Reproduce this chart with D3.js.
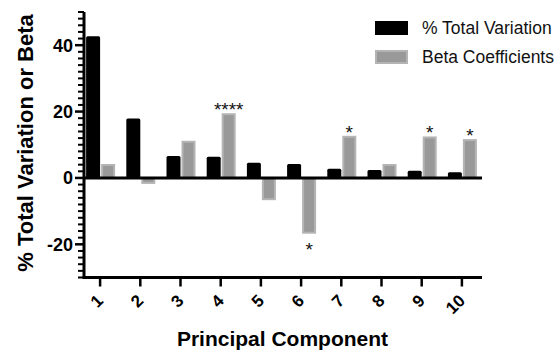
<!DOCTYPE html>
<html>
<head>
<meta charset="utf-8">
<script src="https://cdn.jsdelivr.net/npm/d3@7"></script>
<style>
  body { margin: 0; background: #fff; }
  text { font-family: "Liberation Sans", Arial, sans-serif; }
</style>
</head>
<body>
<div id="chart"></div>
<script>
const components = ['1', '2', '3', '4', '5', '6', '7', '8', '9', '10'];
const totalVariation = [42.7, 17.9, 6.6, 6.4, 4.6, 4.2, 2.8, 2.4, 2.2, 1.7];
const betaCoefficients = [3.9, -1.5, 10.9, 19.2, -6.4, -16.5, 12.4, 3.9, 12.2, 11.4];
const significance = ['', '', '', '****', '', '*', '*', '', '*', '*'];
const yMajorTicks = [-20, 0, 20, 40];
const seriesNames = ['% Total Variation', 'Beta Coefficients'];

const W = 556, H = 352;
const svg = d3.select('#chart').append('svg')
  .attr('width', W).attr('height', H);

// scales
const x = d3.scaleBand().domain(components).range([80, 482]);
const y = d3.scaleLinear().domain([-30, 50]).range([277.5, 12]);
const axisLeftX = 84;
const barW = 14;
const cx = d => x(d) + x.bandwidth() / 2;

// bars: total variation (black)
svg.append('g').selectAll('rect')
  .data(totalVariation)
  .join('rect')
  .attr('x', (d, i) => cx(components[i]) - barW)
  .attr('y', d => y(Math.max(0, d)))
  .attr('width', barW)
  .attr('height', d => Math.abs(y(d) - y(0)))
  .attr('rx', 1.5)
  .attr('fill', '#000');

// bars: beta coefficients (grey)
svg.append('g').selectAll('rect')
  .data(betaCoefficients)
  .join('rect')
  .attr('x', (d, i) => cx(components[i]) + 2)
  .attr('y', d => y(Math.max(0, d)))
  .attr('width', barW - 2)
  .attr('height', d => Math.abs(y(d) - y(0)))
  .attr('fill', '#999')
  .attr('stroke', '#b4b4b4')
  .attr('stroke-width', 2);

// significance stars
svg.append('g').selectAll('text')
  .data(significance)
  .join('text')
  .attr('x', (d, i) => cx(components[i]) + 8)
  .attr('y', (d, i) => betaCoefficients[i] >= 0 ? y(betaCoefficients[i]) + 2 : y(betaCoefficients[i]) + 23)
  .attr('text-anchor', 'middle')
  .attr('font-size', 19)
  .attr('fill', '#111')
  .text(d => d);

// y axis
const yAxis = svg.append('g').attr('transform', `translate(${axisLeftX},0)`);
yAxis.append('line')
  .attr('y1', y(50)).attr('y2', y(-30))
  .attr('stroke', '#000').attr('stroke-width', 3);
const minor = d3.range(-30, 51, 2).filter(v => !yMajorTicks.includes(v));
yAxis.selectAll('.minor').data(minor).join('line')
  .attr('class', 'minor')
  .attr('x1', -6).attr('x2', 0)
  .attr('y1', d => y(d)).attr('y2', d => y(d))
  .attr('stroke', '#000').attr('stroke-width', 2);
yAxis.selectAll('.major').data(yMajorTicks).join('line')
  .attr('class', 'major')
  .attr('x1', -9).attr('x2', 0)
  .attr('y1', d => y(d)).attr('y2', d => y(d))
  .attr('stroke', '#000').attr('stroke-width', 2.5);
yAxis.selectAll('.lbl').data(yMajorTicks).join('text')
  .attr('class', 'lbl')
  .attr('x', -11).attr('y', d => y(d))
  .attr('dy', '0.36em')
  .attr('text-anchor', 'end')
  .attr('font-size', 18).attr('font-weight', 'bold')
  .text(d => d);

// zero line
svg.append('line')
  .attr('x1', axisLeftX).attr('x2', 482)
  .attr('y1', y(0)).attr('y2', y(0))
  .attr('stroke', '#000').attr('stroke-width', 3);

// x axis at bottom
const xAxisY = y(-30);
svg.append('line')
  .attr('x1', axisLeftX - 1.5).attr('x2', 482)
  .attr('y1', xAxisY).attr('y2', xAxisY)
  .attr('stroke', '#000').attr('stroke-width', 3);
svg.append('g').selectAll('line')
  .data(components).join('line')
  .attr('x1', cx).attr('x2', cx)
  .attr('y1', xAxisY).attr('y2', xAxisY + 9)
  .attr('stroke', '#000').attr('stroke-width', 2.5);
svg.append('g').selectAll('text')
  .data(components).join('text')
  .attr('transform', d => `translate(${cx(d)},${xAxisY + 20}) rotate(-45)`)
  .attr('text-anchor', 'end')
  .attr('dy', '0.35em')
  .attr('font-size', 17).attr('font-weight', 'bold')
  .text(d => d);

// axis titles
svg.append('text')
  .attr('transform', 'translate(33,143) rotate(-90)')
  .attr('text-anchor', 'middle')
  .attr('font-size', 22).attr('font-weight', 'bold')
  .text('% Total Variation or Beta');
svg.append('text')
  .attr('x', 282.5).attr('y', 346)
  .attr('text-anchor', 'middle')
  .attr('font-size', 21).attr('font-weight', 'bold')
  .text('Principal Component');

// legend
const legend = svg.append('g').attr('transform', 'translate(375,21)');
seriesNames.forEach((name, i) => {
  const g = legend.append('g').attr('transform', `translate(0,${i * 29})`);
  g.append('rect')
    .attr('x', 1).attr('y', 1)
    .attr('width', 31).attr('height', 12)
    .attr('fill', i === 0 ? '#000' : '#999')
    .attr('stroke', i === 0 ? '#000' : '#b4b4b4')
    .attr('stroke-width', 2);
  g.append('text')
    .attr('x', 47).attr('y', 13)
    .attr('font-size', 17.5)
    .attr('fill', '#111')
    .text(name);
});
</script>
</body>
</html>
